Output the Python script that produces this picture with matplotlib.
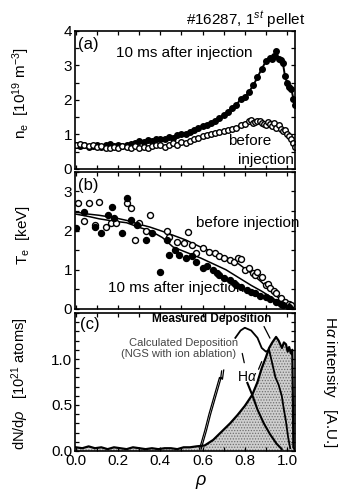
import matplotlib
matplotlib.use('Agg')
import matplotlib.pyplot as plt
from matplotlib.ticker import MultipleLocator, FixedLocator

plt.rcParams['font.family'] = ['Liberation Sans', 'DejaVu Sans']
plt.rcParams['mathtext.fontset'] = 'custom'
plt.rcParams['mathtext.rm'] = 'Liberation Sans'
plt.rcParams['mathtext.it'] = 'Liberation Sans:italic'
plt.rcParams['hatch.linewidth'] = 0.6

# (a) electron density, 10^19 m^-3
rho_a_after = [0.00, 0.02, 0.04, 0.06, 0.08, 0.10, 0.12, 0.14, 0.16, 0.18, 0.20, 0.22, 0.24, 0.26,
               0.28, 0.30, 0.32, 0.34, 0.36, 0.38, 0.40, 0.42, 0.44, 0.46, 0.48, 0.50, 0.52, 0.54,
               0.56, 0.58, 0.60, 0.62, 0.64, 0.66, 0.68, 0.70, 0.72, 0.74, 0.76, 0.78, 0.80, 0.82,
               0.84, 0.86, 0.88, 0.90, 0.92, 0.93, 0.94, 0.95, 0.96, 0.97, 0.98, 0.99, 1.00, 1.01,
               1.02, 1.03, 1.04]
ne_after = [0.68, 0.66, 0.69, 0.64, 0.67, 0.70, 0.64, 0.68, 0.71, 0.66, 0.70, 0.66, 0.68, 0.72,
            0.76, 0.80, 0.78, 0.84, 0.82, 0.86, 0.88, 0.86, 0.92, 0.90, 0.98, 1.02, 1.00, 1.06,
            1.12, 1.20, 1.24, 1.26, 1.34, 1.40, 1.48, 1.56, 1.64, 1.78, 1.86, 2.02, 2.08, 2.24,
            2.42, 2.66, 2.90, 3.12, 3.22, 3.18, 3.26, 3.42, 3.20, 3.16, 3.08, 2.70, 2.50, 2.38,
            2.32, 2.04, 1.86]
rho_a_before = [0.00, 0.02, 0.04, 0.06, 0.08, 0.10, 0.12, 0.14, 0.16, 0.18, 0.20, 0.22, 0.24, 0.26,
                0.28, 0.30, 0.32, 0.34, 0.36, 0.38, 0.40, 0.42, 0.44, 0.46, 0.48, 0.50, 0.52, 0.54,
                0.56, 0.58, 0.60, 0.62, 0.64, 0.66, 0.68, 0.70, 0.72, 0.74, 0.76, 0.78, 0.80, 0.82,
                0.83, 0.84, 0.85, 0.86, 0.87, 0.88, 0.89, 0.90, 0.91, 0.92, 0.93, 0.94, 0.95, 0.96,
                0.97, 0.98, 0.99, 1.00, 1.01, 1.02, 1.03, 1.04]
ne_before = [0.70, 0.72, 0.68, 0.66, 0.70, 0.64, 0.66, 0.62, 0.60, 0.64, 0.60, 0.66, 0.64, 0.62,
             0.66, 0.60, 0.64, 0.62, 0.66, 0.70, 0.68, 0.64, 0.70, 0.74, 0.70, 0.78, 0.74, 0.82,
             0.86, 0.90, 0.96, 0.98, 1.00, 1.04, 1.08, 1.10, 1.14, 1.16, 1.20, 1.26, 1.30, 1.38,
             1.42, 1.34, 1.36, 1.40, 1.38, 1.32, 1.30, 1.28, 1.36, 1.30, 1.24, 1.34, 1.20, 1.26,
             1.16, 1.10, 1.14, 1.02, 0.96, 0.88, 0.74, 0.64]

# (b) electron temperature, keV
rho_b_before = [0.01, 0.06, 0.11, 0.04, 0.09, 0.14, 0.165, 0.19, 0.24, 0.26, 0.28, 0.30, 0.33, 0.35,
                0.43, 0.44, 0.48, 0.51, 0.53, 0.55, 0.57, 0.60, 0.63, 0.66, 0.68, 0.70, 0.73, 0.75,
                0.77, 0.78, 0.80, 0.82, 0.84, 0.85, 0.86, 0.88, 0.90, 0.91, 0.92, 0.94, 0.95, 0.97,
                0.99, 1.01, 1.02]
te_before = [2.70, 2.70, 2.72, 2.24, 2.14, 2.10, 2.19, 2.19, 2.70, 2.57, 1.76, 2.19, 2.00, 2.39,
             1.98, 1.83, 1.70, 1.68, 1.96, 1.63, 1.42, 1.55, 1.45, 1.42, 1.36, 1.30, 1.25, 1.20,
             1.30, 1.28, 1.00, 1.05, 0.92, 0.87, 0.95, 0.82, 0.60, 0.64, 0.53, 0.45, 0.40, 0.28,
             0.18, 0.12, 0.10]
rho_b_after = [0.00, 0.04, 0.09, 0.12, 0.15, 0.17, 0.18, 0.22, 0.24, 0.26, 0.29, 0.33, 0.36, 0.40,
               0.43, 0.44, 0.47, 0.49, 0.52, 0.55, 0.57, 0.60, 0.62, 0.65, 0.67, 0.68, 0.70, 0.73,
               0.75, 0.76, 0.78, 0.81, 0.83, 0.85, 0.87, 0.90, 0.92, 0.95, 0.97, 0.98, 1.01]
te_after = [2.06, 2.47, 2.09, 1.93, 2.39, 2.60, 2.32, 1.93, 2.82, 2.26, 2.14, 1.76, 1.93, 0.94,
            1.76, 1.37, 1.50, 1.37, 1.30, 1.36, 1.20, 1.04, 1.10, 0.99, 0.92, 0.87, 0.80, 0.74,
            0.66, 0.61, 0.55, 0.48, 0.44, 0.40, 0.34, 0.30, 0.24, 0.18, 0.13, 0.10, 0.05]
rho_fit = [0.00, 0.06, 0.11, 0.18, 0.24, 0.30, 0.35, 0.41, 0.46, 0.52, 0.59, 0.65, 0.71, 0.77,
           0.83, 0.88, 0.93, 0.97, 1.00, 1.03]
te_fit_before = [2.47, 2.42, 2.39, 2.33, 2.26, 2.16, 2.09, 1.98, 1.88, 1.76, 1.58, 1.45, 1.32, 1.15,
                 0.91, 0.68, 0.41, 0.24, 0.15, 0.06]
te_fit_after = [2.42, 2.36, 2.30, 2.24, 2.20, 2.08, 2.00, 1.82, 1.58, 1.45, 1.30, 1.15, 1.00, 0.80,
                0.60, 0.45, 0.28, 0.14, 0.05, 0.02]

# (c) deposition, 10^21 atoms
rho_meas = [0.00, 0.03, 0.06, 0.09, 0.12, 0.15, 0.18, 0.21, 0.24, 0.27, 0.30, 0.33, 0.36, 0.39,
            0.42, 0.45, 0.48, 0.51, 0.54, 0.57, 0.61, 0.65, 0.69, 0.73, 0.765, 0.80, 0.835, 0.86,
            0.88, 0.90, 0.915, 0.93, 0.948, 0.96, 0.976, 0.985, 0.995, 1.003, 1.01, 1.018, 1.025,
            1.03, 1.04]
dep_meas = [0.04, 0.03, 0.05, 0.03, 0.04, 0.02, 0.04, 0.03, 0.02, 0.04, 0.03, 0.02, 0.03, 0.02,
            0.03, 0.03, 0.02, 0.04, 0.04, 0.05, 0.06, 0.12, 0.21, 0.30, 0.39, 0.49, 0.61, 0.75,
            0.90, 1.02, 1.12, 1.18, 1.24, 1.20, 1.12, 1.18, 1.16, 1.08, 1.13, 1.06, 1.10, 0.04, 0.0]
rho_calc1 = [0.585, 0.61, 0.63, 0.65, 0.67, 0.68, 0.685, 0.69]
dep_calc1 = [0.02, 0.22, 0.40, 0.56, 0.72, 0.80, 0.78, 0.87]
rho_calc2 = [0.593, 0.618, 0.638, 0.658, 0.678, 0.688, 0.694, 0.70]
dep_calc2 = [0.02, 0.22, 0.40, 0.56, 0.72, 0.80, 0.78, 0.88]
rho_calc3 = [0.812, 0.835, 0.86, 0.89, 0.92, 0.95, 0.975]
dep_calc3 = [0.74, 0.61, 0.45, 0.30, 0.18, 0.08, 0.02]
rho_ha = [0.755, 0.78, 0.80, 0.83, 0.86, 0.88, 0.90, 0.915, 0.93, 0.945, 0.96, 0.975, 0.985,
          0.995, 1.005, 1.015]
ha = [1.23, 1.31, 1.34, 1.31, 1.23, 1.12, 1.08, 1.10, 0.95, 0.80, 0.72, 0.60, 0.45, 0.32, 0.15,
      0.03]

fig = plt.figure(figsize=(3.42, 4.91), dpi=100)
L, W = 0.219, 0.645
ax_a = fig.add_axes([L, 0.656, W, 0.281])
ax_b = fig.add_axes([L, 0.371, W, 0.279])
ax_c = fig.add_axes([L, 0.0815, W, 0.281])

for ax in (ax_a, ax_b, ax_c):
    ax.set_xlim(-0.005, 1.04)
    ax.xaxis.set_major_locator(MultipleLocator(0.2))
    ax.xaxis.set_minor_locator(MultipleLocator(0.1))
    ax.tick_params(which='both', direction='in', top=True, right=True, labelsize=11,
                   length=3, width=0.9, pad=2)
    for s in ax.spines.values():
        s.set_linewidth(1.2)

# (a)
ax_a.plot(rho_a_after, ne_after, '-o', color='black', lw=1.4, ms=4, mfc='black', mec='black')
ax_a.plot(rho_a_before, ne_before, 'o', ms=4, mfc='white', mec='black', mew=1.0)
ax_a.set_ylim(0, 4)
ax_a.yaxis.set_major_locator(MultipleLocator(1))
ax_a.yaxis.set_minor_locator(MultipleLocator(0.5))
ax_a.tick_params(labelbottom=False)
ax_a.set_ylabel(r'n$_\mathregular{e}$  [10$^{19}$ m$^{-3}$]', fontsize=11)
ax_a.yaxis.set_label_coords(-0.195, 0.55)
ax_a.text(0.01, 3.62, '(a)', fontsize=12, va='center')
ax_a.text(0.19, 3.37, '10 ms after injection', fontsize=11, va='center')
ax_a.text(0.72, 0.81, 'before', fontsize=11, va='center')
ax_a.text(0.77, 0.26, 'injection', fontsize=11, va='center')

# (b)
ax_b.plot(rho_fit, te_fit_before, '-', color='black', lw=1.1)
ax_b.plot(rho_fit, te_fit_after, '-', color='black', lw=1.1)
ax_b.plot(rho_b_before, te_before, 'o', ms=4.3, mfc='white', mec='black', mew=1.0)
ax_b.plot(rho_b_after, te_after, 'o', ms=4.3, mfc='black', mec='black')
ax_b.set_ylim(0, 3.5)
ax_b.yaxis.set_major_locator(FixedLocator([0, 1, 2, 3]))
ax_b.yaxis.set_minor_locator(MultipleLocator(0.5))
ax_b.tick_params(labelbottom=False)
ax_b.set_ylabel(r'T$_\mathregular{e}$  [keV]', fontsize=11)
ax_b.yaxis.set_label_coords(-0.195, 0.54)
ax_b.text(0.01, 3.16, '(b)', fontsize=12, va='center')
ax_b.text(0.57, 2.19, 'before injection', fontsize=11, va='center')
ax_b.text(0.15, 0.53, '10 ms after injection', fontsize=11, va='center')

# (c)
ax_c.fill_between(rho_meas, 0, dep_meas, facecolor='#cfcfcf', edgecolor='#6f6f6f',
                  hatch='......', linewidth=0)
ax_c.plot(rho_meas, dep_meas, '-', color='black', lw=1.6)
ax_c.plot(rho_calc1, dep_calc1, '-', color='black', lw=0.9)
ax_c.plot(rho_calc2, dep_calc2, '-', color='black', lw=0.9)
ax_c.plot(rho_calc3, dep_calc3, '-', color='black', lw=1.5)
ax_c.plot(rho_ha, ha, '-', color='black', lw=1.3)
ax_c.set_ylim(0, 1.5)
ax_c.yaxis.set_major_locator(FixedLocator([0.0, 0.5, 1.0]))
ax_c.yaxis.set_minor_locator(MultipleLocator(0.1))
ax_c.yaxis.set_major_formatter(lambda v, pos: f'{v:.1f}')
ax_c.set_xticks([0.0, 0.2, 0.4, 0.6, 0.8, 1.0])
ax_c.set_xticklabels(['0.0', '0.2', '0.4', '0.6', '0.8', '1.0'])
ax_c.set_ylabel(r'dN/d$\rho$   [10$^{21}$ atoms]', fontsize=10.5)
ax_c.yaxis.set_label_coords(-0.2, 0.49)
ax_c.set_xlabel(r'$\rho$', fontsize=13)
ax_c.xaxis.set_label_coords(0.57, -0.16)
ax_c.text(0.02, 1.37, '(c)', fontsize=12, va='center')
ax_c.text(0.36, 1.44, 'Measured Deposition', fontsize=8.5, fontweight='bold', va='center')
ax_c.text(0.25, 1.175, 'Calculated Deposition', fontsize=8, color='#444444', va='center')
ax_c.text(0.215, 1.05, '(NGS with ion ablation)', fontsize=8, color='#444444', va='center')
ax_c.text(0.765, 0.80, r'H$\alpha$', fontsize=10, va='center')
ax_c.annotate('', xy=(0.925, 1.2), xytext=(0.885, 1.38),
              arrowprops=dict(arrowstyle='-', color='black', lw=0.9))
ax_c.annotate('', xy=(0.80, 0.93), xytext=(0.785, 1.09),
              arrowprops=dict(arrowstyle='-', color='black', lw=0.9))
ax_c.annotate('', xy=(0.885, 1.0), xytext=(0.86, 0.86),
              arrowprops=dict(arrowstyle='-', color='black', lw=0.9))

fig.text(0.892, 0.959, r'#16287, 1$^{st}$ pellet', fontsize=11, ha='right', va='center')
fig.text(0.965, 0.222, r'H$\alpha$ intensity   [A.U.]', fontsize=11, rotation=270,
         ha='center', va='center')

fig.savefig('out.png', dpi=100)
